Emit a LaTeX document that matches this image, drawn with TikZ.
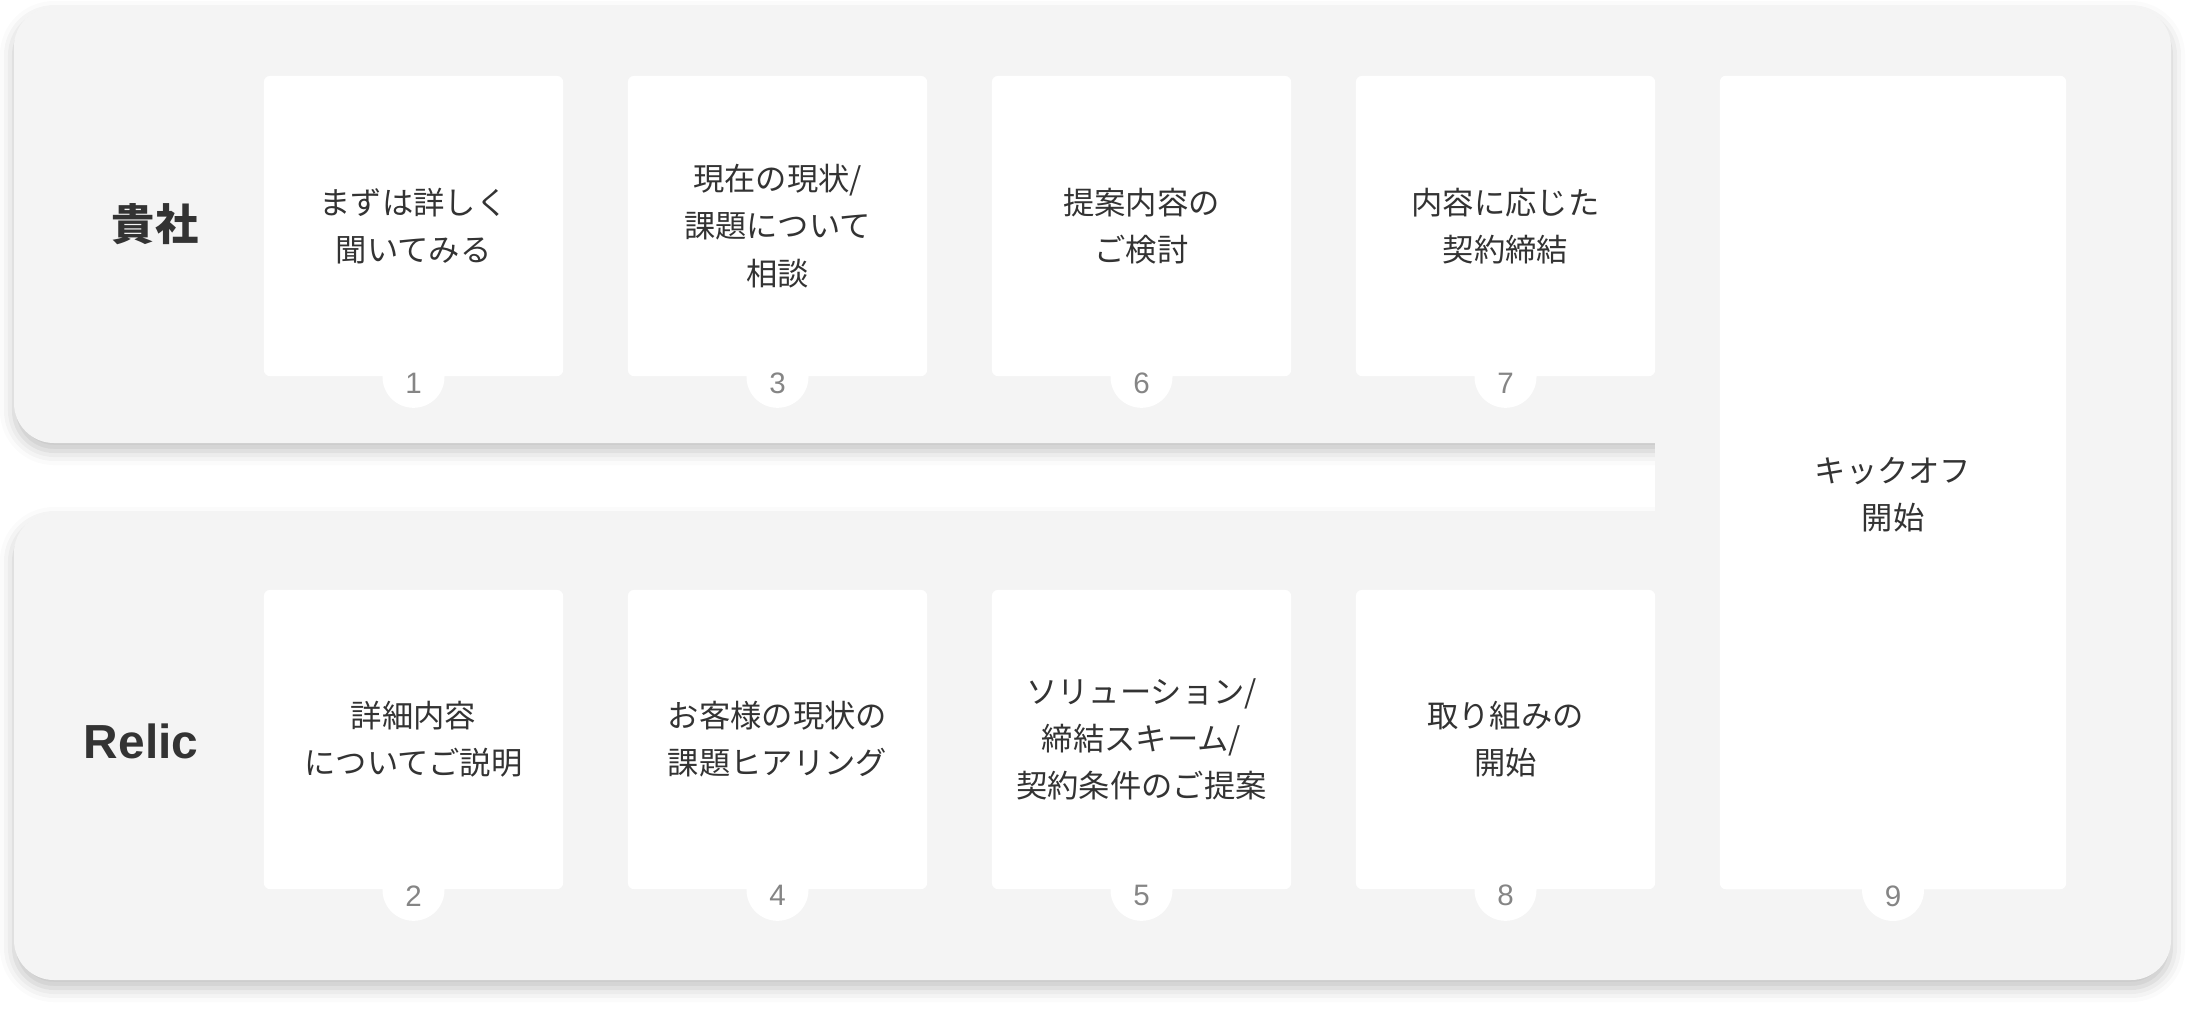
\documentclass[tikz,border=0pt]{standalone}
\usepackage{fontspec}
\setmainfont{Noto Sans CJK JP}
\newfontfamily\latinfont{Liberation Sans}
\usetikzlibrary{shadows.blur}
\definecolor{panelgray}{HTML}{F4F4F4}
\definecolor{inkgray}{HTML}{333333}
\definecolor{numgray}{HTML}{858585}

\begin{document}
\begin{tikzpicture}[x=0.01cm,y=-0.01cm]
\tikzstyle{panel}=[fill=panelgray]
\tikzstyle{lift}=[blur shadow={shadow xshift=0cm,shadow yshift=-0.08cm,shadow blur radius=0.14cm,shadow opacity=24}]
\tikzstyle{card}=[fill=white,rounded corners=0.06cm,minimum width=2.99cm,minimum height=3cm,inner sep=0pt,text=inkgray,align=center,font=\fontsize{8.9}{13.4}\selectfont]
\tikzstyle{tab}=[fill=white,circle,minimum size=0.62cm,inner sep=0pt]
\tikzstyle{num}=[inner sep=0pt,text=numgray,font=\latinfont\fontsize{8.4}{10}\selectfont]
\tikzstyle{side}=[anchor=east,inner sep=0pt,text=inkgray,font=\bfseries\fontsize{12.3}{14}\selectfont]
\useasboundingbox (0,0) rectangle (2196,1008);
% shadow only (gap end hidden under the right column)
\path[lift] (14,47) arc[start angle=180,end angle=270,radius=40]
  -- (2131,7) arc[start angle=270,end angle=360,radius=40]
  -- (2171,940) arc[start angle=0,end angle=90,radius=40]
  -- (54,980) arc[start angle=90,end angle=180,radius=40]
  -- (14,553) arc[start angle=180,end angle=270,radius=40]
  -- (1710,513) -- (1710,443)
  -- (54,443) arc[start angle=90,end angle=180,radius=40]
  -- cycle;
% two lanes joined on the right
\path[panel] (14,47) arc[start angle=180,end angle=270,radius=40]
  -- (2131,7) arc[start angle=270,end angle=360,radius=40]
  -- (2171,940) arc[start angle=0,end angle=90,radius=40]
  -- (54,980) arc[start angle=90,end angle=180,radius=40]
  -- (14,553) arc[start angle=180,end angle=270,radius=40]
  -- (1655,513) -- (1655,443)
  -- (54,443) arc[start angle=90,end angle=180,radius=40]
  -- cycle;
\node[side] (you) at (199,224) {貴社};
\node[side,font=\latinfont\bfseries\fontsize{13.6}{16}\selectfont] (relic) at (199,741) {Relic};
% upper lane
\node[card] (c1) at (413.5,226) {まずは詳しく\\聞いてみる};
\node[card] (c3) at (777.5,226) {現在の現状/\\課題について\\相談};
\node[card] (c6) at (1141.5,226) {提案内容の\\ご検討};
\node[card] (c7) at (1505.5,226) {内容に応じた\\契約締結};
% lower lane
\node[card,minimum height=2.99cm] (c2) at (413.5,739.5) {詳細内容\\についてご説明};
\node[card,minimum height=2.99cm] (c4) at (777.5,739.5) {お客様の現状の\\課題ヒアリング};
\node[card,minimum height=2.99cm] (c5) at (1141.5,739.5) {ソリューション/\\締結スキーム/\\契約条件のご提案};
\node[card,minimum height=2.99cm] (c8) at (1505.5,739.5) {取り組みの\\開始};
% kickoff
\node[card,minimum width=3.46cm,minimum height=8.13cm] (c9) at (1893,482.5) {};
\node[card,fill=none,minimum width=0pt,minimum height=0pt] (k9) at (1893,495) {キックオフ\\開始};
% step numbers
\node[tab] (t1) at (c1.south) {};
\node[tab] (t2) at (c2.south) {};
\node[tab] (t3) at (c3.south) {};
\node[tab] (t4) at (c4.south) {};
\node[tab] (t5) at (c5.south) {};
\node[tab] (t6) at (c6.south) {};
\node[tab] (t7) at (c7.south) {};
\node[tab] (t8) at (c8.south) {};
\node[tab] (t9) at (c9.south) {};
\node[num] (n1) at ([yshift=-0.07cm]t1.center) {1};
\node[num] (n2) at ([yshift=-0.06cm]t2.center) {2};
\node[num] (n3) at ([yshift=-0.07cm]t3.center) {3};
\node[num] (n4) at ([yshift=-0.06cm]t4.center) {4};
\node[num] (n5) at ([yshift=-0.06cm]t5.center) {5};
\node[num] (n6) at ([yshift=-0.07cm]t6.center) {6};
\node[num] (n7) at ([yshift=-0.07cm]t7.center) {7};
\node[num] (n8) at ([yshift=-0.06cm]t8.center) {8};
\node[num] (n9) at ([yshift=-0.06cm]t9.center) {9};
\end{tikzpicture}
\end{document}
